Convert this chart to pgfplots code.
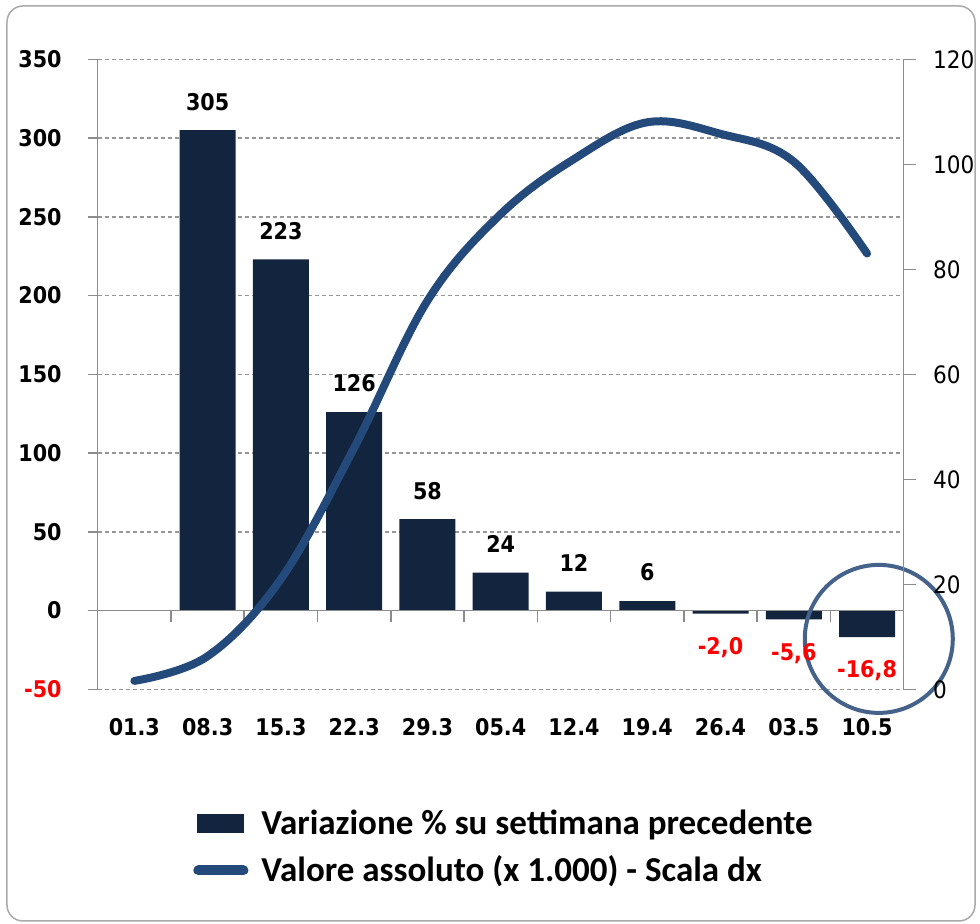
\documentclass[border=0pt]{standalone}
\usepackage{pgfplots}
\pgfplotsset{compat=1.18}
\usepackage{fontspec}
\usepackage{xcolor}
\newfontfamily\tickfont[FakeStretch=0.9]{DejaVu Sans}
\newfontfamily\legfont{Carlito}

\definecolor{barcol}{RGB}{19,36,62}
\definecolor{linecol}{RGB}{36,74,124}
\definecolor{circcol}{RGB}{68,98,138}
\definecolor{gridcol}{RGB}{150,150,150}
\definecolor{axcol}{RGB}{140,140,140}
\definecolor{framecol}{RGB}{170,170,170}

\newcommand\tickbf{\tickfont\bfseries\fontsize{11.5}{12}\selectfont}
\newcommand\tickrg{\tickfont\fontsize{12}{12}\selectfont}

\begin{document}
\begin{tikzpicture}
% page size and outer frame
\path[use as bounding box] (-48.85pt,-117.35pt) rectangle (441.15pt,344.65pt);
\draw[framecol, line width=0.75pt, rounded corners=8pt]
  (-45.35pt,-115.85pt) rectangle (438.65pt,341.65pt);

\begin{axis}[
    scale only axis,
    width=403pt, height=315pt,
    xmin=-0.5, xmax=10.5,
    ymin=-50, ymax=350,
    axis y line*=left, axis x line*=bottom,
    x axis line style={draw=none},
    y axis line style={draw=axcol, line width=0.75pt},
    xtick={0,...,10},
    xticklabels={01.3,08.3,15.3,22.3,29.3,05.4,12.4,19.4,26.4,03.5,10.5},
    xtick style={draw=none},
    xticklabel style={font=\tickbf, anchor=base, inner sep=0pt, yshift=-18pt},
    ytick={-50,0,50,100,150,200,250,300,350},
    yticklabels={{\color{red}-50},0,50,100,150,200,250,300,350},
    ytick style={draw=axcol, line width=0.75pt},
    tick align=outside, major tick length=5pt,
    yticklabel style={font=\tickbf, anchor=east, inner sep=0pt, xshift=-12.85pt},
    ymajorgrids,
    grid style={gridcol, line width=0.75pt, dash pattern=on 2pt off 1.5pt},
    /pgf/number format/assume math mode=true,
    clip=false,
    ybar, bar width=28pt,
]
\addplot[fill=barcol, draw=none, bar shift=0pt,
    nodes near coords,
    every node near coord/.append style={font=\tickbf, text=black, anchor=center, yshift=14.25pt}]
    coordinates {(1,305) (2,223) (3,126) (4,58) (5,24) (6,12) (7,6)};
\addplot[fill=barcol, draw=none, bar shift=0pt,
    point meta=explicit symbolic,
    nodes near coords,
    every node near coord/.append style={font=\tickbf, text=red, anchor=center, yshift=-17pt}]
    coordinates {(8,-2.0) [-2{,}0] (9,-5.6) [-5{,}6] (10,-16.8) [-16{,}8]};

% zero line with category ticks
\draw[axcol, line width=0.75pt] ([xshift=-5pt]axis cs:-0.5,0) -- (axis cs:10.5,0);
\pgfplotsinvokeforeach{0.5,1.5,2.5,3.5,4.5,5.5,6.5,7.5,8.5,9.5}{
  \draw[axcol, line width=0.75pt] (axis cs:#1,0) -- ++(0pt,-5.5pt);
}
% highlight circle
\draw[circcol, line width=2pt] (axis cs:10.16,-18) circle[radius=37pt];
\end{axis}

\begin{axis}[
    scale only axis,
    width=403pt, height=315pt,
    xmin=-0.5, xmax=10.5,
    ymin=0, ymax=120,
    axis y line*=right, axis x line=none,
    ytick={0,20,40,60,80,100,120},
    y axis line style={draw=axcol, line width=0.75pt},
    ytick style={draw=axcol, line width=0.75pt},
    tick align=outside, major tick length=6pt,
    yticklabel style={font=\tickrg, anchor=west, inner sep=0pt, xshift=8.5pt},
    /pgf/number format/assume math mode=true,
    clip=false,
    legend style={at={(0.1182,-0.19)}, anchor=north west, draw=none, fill=none,
        font=\legfont\bfseries\fontsize{17.5}{19}\selectfont,
        inner sep=0pt, row sep=9.5pt, column sep=6.5pt,
        nodes={inner sep=0pt}},
    legend cell align=left,
]
\addlegendimage{legend image code/.code={\fill[barcol] (2pt,-4.5pt) rectangle (25pt,4.5pt);}}
\addlegendentry{Variazione \% su settimana precedente}
\addplot[linecol, line width=4pt, line cap=round, smooth, tension=0.6, no markers,
    legend image code/.code={\draw[linecol, line width=5pt, line cap=round] (2.5pt,0pt) -- (25pt,0pt);}]
    coordinates {(0,1.6) (1,6.3) (2,21) (3,46) (4,74) (5,90.5) (6,101) (7,108) (8,105.8) (9,100.5) (10,83)};
\addlegendentry{Valore assoluto (x 1.000) - Scala dx}
\end{axis}
\end{tikzpicture}
\end{document}
